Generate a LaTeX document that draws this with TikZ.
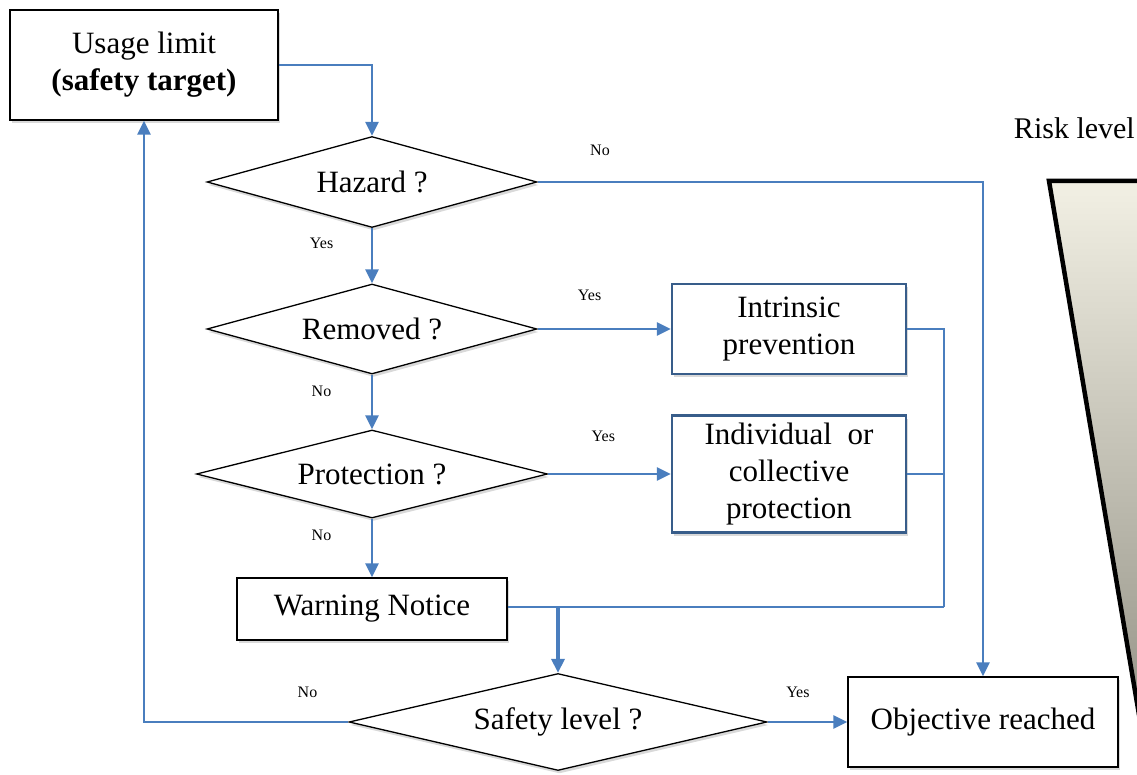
\documentclass[tikz,border=0pt]{standalone}
\usepackage{fontspec}
\setmainfont{Liberation Serif}
\usetikzlibrary{positioning,shapes.geometric,arrows.meta,shadows}

\definecolor{flowblue}{RGB}{74,126,190}
\definecolor{edgeblue}{RGB}{56,93,138}
\definecolor{wedgetop}{RGB}{242,240,228}
\definecolor{wedgebot}{RGB}{140,138,126}

\begin{document}
\begin{tikzpicture}[
  x=1pt, y=-1pt,
  font=\fontsize{31}{37}\selectfont,
  shade/.style={drop shadow={shadow xshift=1.5pt, shadow yshift=-3pt, opacity=0.3}},
  box/.style={draw, line width=1.5pt, fill=white, align=center, inner sep=4pt, shade},
  sidebox/.style={box, draw=edgeblue, line width=2.4pt},
  ask/.style={diamond, draw, line width=1.3pt, fill=white, inner sep=0pt, aspect=3.6, shade},
  arr/.style={-{Triangle[length=14pt,width=13pt]}, draw=flowblue, line width=2.8pt},
  line/.style={draw=flowblue, line width=2.8pt},
  lbl/.style={font=\fontsize{16}{18}\selectfont}
]
\clip (0,0) rectangle (1137,775);

% Échelle de risque
\fill[top color=wedgetop, bottom color=wedgebot, draw=black, line width=4.5pt]
  (1049,181) -- (1250,181) -- (1150,780) -- cycle;
\node[anchor=east, inner sep=1pt, font=\fontsize{30}{36}\selectfont] (risk) at (1136,128) {Risk level};

% Colonne principale
\node[box, minimum width=268pt, minimum height=110pt] (usage) at (144,65) {Usage limit\\\textbf{(safety target)}};
\node[ask, minimum width=330pt, minimum height=91pt] (hazard) at (372,182) {Hazard ?};
\node[ask, minimum width=330pt, minimum height=90pt] (removed) at (372,329) {Removed ?};
\node[ask, minimum width=351pt, minimum height=88pt] (protect) at (372,474) {Protection ?};
\node[box, minimum width=270pt, minimum height=62pt] (warn) at (372,609) {Warning Notice};
\node[ask, minimum width=418pt, minimum height=97pt] (safety) at (558,722) {Safety level ?};

% Mesures
\node[sidebox, minimum width=234pt, minimum height=90pt] (intrinsic) at (789,329) {Intrinsic\\prevention};
\node[sidebox, minimum width=234pt, minimum height=117pt] (indiv) at (789,474) {Individual~ or\\collective\\protection};
\node[box, minimum width=270pt, minimum height=90pt] (goal) at (983,722) {Objective reached};

% Points de jonction
\coordinate (merge) at (944,607);
\coordinate (join) at (558,607);

% Flèches colonne principale
\draw[arr] (usage.east) -| (hazard.north);
\draw[arr] (hazard) -- node[lbl, pos=0.28, left=34pt] {Yes} (removed);
\draw[arr] (removed) -- node[lbl, pos=0.3, left=36pt] {No} (protect);
\draw[arr] (protect) -- node[lbl, pos=0.28, left=36pt] {No} (warn);

% Flèches vers les mesures
\draw[arr] (removed.east) -- node[lbl, pos=0.39, above=24pt] {Yes} (intrinsic.west);
\draw[arr] (protect.east) -- node[lbl, pos=0.45, above=28pt] {Yes} (indiv.west);
\draw[arr] (hazard.east) -| node[lbl, pos=0.07, above=22pt] {No} (goal.north);

% Retour des mesures
\draw[line] (intrinsic.east) -| (merge);
\draw[line] (indiv.east) -- (indiv.east -| merge);
\draw[line] (warn.east |- merge) -- (merge);
\draw[arr, line width=4pt] (join) -- (safety.north);

% Sorties du niveau de sécurité
\draw[arr] (safety.west) -| node[lbl, pos=0.1, above=20pt] {No} (usage.south);
\draw[arr] (safety.east) -- node[lbl, pos=0.38, above=20pt] {Yes} (goal.west);

\end{tikzpicture}
\end{document}
